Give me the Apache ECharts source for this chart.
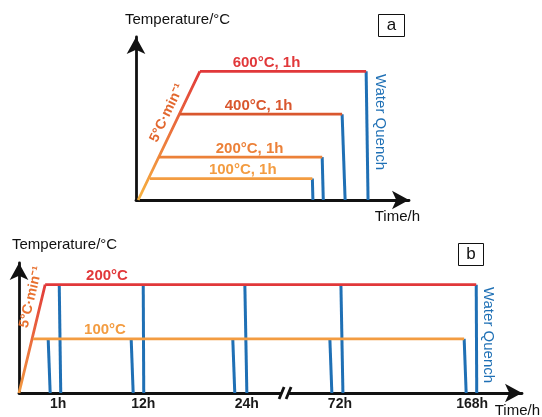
<!DOCTYPE html>
<html><head><meta charset="utf-8">
<script src="https://cdn.jsdelivr.net/npm/echarts@6/dist/echarts.min.js"></script>
<style>html,body{margin:0;padding:0;background:#fff}#c{width:542px;height:417px}</style>
</head><body><div id="c"></div>
<script>
// ---------- Panel a (schematic time units 0-100, temperature in °C) ----------
const aTemps = [100, 200, 400, 600];
const aLabels = ['100°C, 1h', '200°C, 1h', '400°C, 1h', '600°C, 1h'];
const aHoldStart = [5.1, 8.4, 16.1, 23.4];
const aHoldEnd = [64.6, 68.2, 75.5, 84.3];
const aQuenchEnd = [64.8, 68.6, 76.6, 85.0];
const aLabelX = [39.1, 41.6, 44.9, 47.8];
const aRampX = [0.8, 23.4];
const aRampT = [0, 600];
// ---------- Panel b ----------
const bTemps = [100, 200];
const bLabels = ['100°C', '200°C'];
const bHoldStart = [2.8, 5.2];
const bHoldEnd = [88.5, 90.9];
const bLabelX = [17.1, 17.5];
const bRampX = [0, 5.2];
const bRampT = [0, 200];
const bQuenchTop100 = [5.8, 22.3, 42.5, 61.8, 88.5];
const bQuenchBottom100 = [6.2, 22.7, 42.9, 62.2, 88.9];
const bQuenchTop200 = [8.0, 24.7, 44.9, 64.0, 90.9];
const bQuenchBottom200 = [8.3, 24.8, 45.3, 64.4, 91.0];
const bTickNames = ['1h', '12h', '24h', '72h', '168h'];
const bTickPos = [7.8, 24.7, 45.3, 63.8, 90.1];
const bBreakPos = 52.9;
const slopeText = '5°C·min⁻¹';

const FONT = "'Liberation Sans', Arial, Helvetica, sans-serif";
const aColors = ['#f39c41', '#ec8139', '#d9572e', '#e1383a'];
const bColors = ['#f39c41', '#e1383a'];
const BLUE = '#1f70b5';
const AXIS = '#111';

const chart = echarts.init(document.getElementById('c'), null, {renderer: 'canvas'});

function axisPair(gi, xmax, ymax, withLabels) {
  const x = {
    type: 'value', gridIndex: gi, min: 0, max: xmax,
    splitLine: {show: false}, axisTick: {show: false},
    axisLine: {show: true, onZero: false, symbol: ['none', 'arrow'], symbolSize: [14, 17],
      lineStyle: {color: AXIS, width: 2.8}},
    axisLabel: {show: false}
  };
  if (withLabels) {
    x.axisLabel = {
      show: true, customValues: bTickPos,
      formatter: v => bTickNames[bTickPos.indexOf(v)],
      fontFamily: FONT, fontWeight: 'bold', fontSize: 14, color: '#1a1a1a', margin: 4
    };
  }
  const y = {
    type: 'value', gridIndex: gi, min: 0, max: ymax,
    splitLine: {show: false}, axisTick: {show: false}, axisLabel: {show: false},
    axisLine: {show: true, onZero: false, symbol: ['none', 'arrow'], symbolSize: [14, 17],
      lineStyle: {color: AXIS, width: 2.8}}
  };
  return [x, y];
}
const [ax, ay] = axisPair(0, 100, 760, false);
const [bx, by] = axisPair(1, 100, 240, true);

const series = [];
function seg(gi, data, color, width, z) {
  series.push({
    type: 'line', xAxisIndex: gi, yAxisIndex: gi, data: data, symbol: 'none',
    silent: true, animation: false, z: z,
    lineStyle: {color: color, width: width, cap: 'butt', join: 'miter'}
  });
}
function rampGrad(c0, c1) {
  return new echarts.graphic.LinearGradient(0, 1, 0, 0, [
    {offset: 0, color: c0}, {offset: 1, color: c1}
  ]);
}
// panel a
seg(0, aRampX.map((x, i) => [x, aRampT[i]]), rampGrad('#f7b540', '#e1383a'), 2.8, 3);
aTemps.forEach((t, i) => {
  seg(0, [[aHoldEnd[i], t], [aQuenchEnd[i], 0]], BLUE, 3, 2);
  seg(0, [[aHoldStart[i], t], [aHoldEnd[i], t]], aColors[i], 2.8, 3);
});
// panel b
seg(1, bRampX.map((x, i) => [x, bRampT[i]]), rampGrad('#f39c41', '#e1383a'), 2.8, 3);
bQuenchTop100.forEach((x, i) => seg(1, [[x, 100], [bQuenchBottom100[i], 0]], BLUE, 3, 2));
bQuenchTop200.forEach((x, i) => seg(1, [[x, 200], [bQuenchBottom200[i], 0]], BLUE, 3, 2));
bTemps.forEach((t, i) => seg(1, [[bHoldStart[i], t], [bHoldEnd[i], t]], bColors[i], 2.8, 3));

chart.setOption({
  animation: false,
  backgroundColor: '#fff',
  grid: [
    {left: 136, top: 37, width: 273, height: 163},
    {left: 19, top: 263, width: 503, height: 130}
  ],
  xAxis: [ax, bx],
  yAxis: [ay, by],
  series: series
});

// ---------- texts and decorations placed from the axes ----------
const px = (gi, v) => chart.convertToPixel({gridIndex: gi}, v);
const g = [];
function txt(x, y, text, opts) {
  g.push(Object.assign({type: 'text', x: x, y: y, z: 10,
    style: Object.assign({text: text, fontFamily: FONT, fontSize: 15, fill: '#111',
      align: 'center', verticalAlign: 'middle'}, opts.style || {})}, opts.el || {}));
}
aTemps.forEach((t, i) => {
  const p = px(0, [aLabelX[i], t]);
  txt(p[0], p[1] - 8.5, aLabels[i], {style: {fill: aColors[i], fontWeight: 'bold'}});
});
bTemps.forEach((t, i) => {
  const p = px(1, [bLabelX[i], t]);
  txt(p[0], p[1] - 8.5, bLabels[i], {style: {fill: bColors[i], fontWeight: 'bold'}});
});
// slope labels
function slope(gi, rx, rt, cx, cy, color) {
  const p0 = px(gi, [rx[0], rt[0]]), p1 = px(gi, [rx[1], rt[1]]);
  const ang = Math.atan2(p0[1] - p1[1], p1[0] - p0[0]);
  g.push({type: 'text', x: cx, y: cy, rotation: ang, z: 10,
    style: {text: slopeText, align: 'center', verticalAlign: 'middle',
      font: "bold 14px " + FONT, fill: color}});
}
slope(0, aRampX, aRampT, 167, 113, '#e2672e');
slope(1, bRampX, bRampT, 31, 297, '#e8702e');
// axis titles
txt(125, 20, 'Temperature/°C', {style: {align: 'left'}});
txt(12, 245, 'Temperature/°C', {style: {align: 'left'}});
txt(420, 217, 'Time/h', {style: {align: 'right'}});
txt(540, 411, 'Time/h', {style: {align: 'right'}});
// water quench
txt(380, 122, 'Water Quench', {style: {fill: BLUE}, el: {rotation: -Math.PI / 2}});
txt(488, 335, 'Water Quench', {style: {fill: BLUE}, el: {rotation: -Math.PI / 2}});
// panel boxes
g.push({type: 'rect', shape: {x: 378.5, y: 14.5, width: 26, height: 22}, style: {fill: '#fff', stroke: '#111', lineWidth: 1}, z: 9});
txt(391.5, 25.5, 'a', {style: {fontSize: 17}});
g.push({type: 'rect', shape: {x: 458.5, y: 243.5, width: 25, height: 22}, style: {fill: '#fff', stroke: '#111', lineWidth: 1}, z: 9});
txt(471, 254.5, 'b', {style: {fontSize: 17}});
// axis break mark
const bp = px(1, [bBreakPos, 0]);
g.push({type: 'rect', shape: {x: bp[0] - 4, y: bp[1] - 3, width: 8, height: 6}, style: {fill: '#fff'}, z: 9});
[-3.5, 3.5].forEach(d => {
  g.push({type: 'line', shape: {x1: bp[0] + d - 2.5, y1: bp[1] + 6, x2: bp[0] + d + 2.5, y2: bp[1] - 6},
    style: {stroke: AXIS, lineWidth: 2.8}, z: 10});
});
chart.setOption({graphic: g});
</script></body></html>
